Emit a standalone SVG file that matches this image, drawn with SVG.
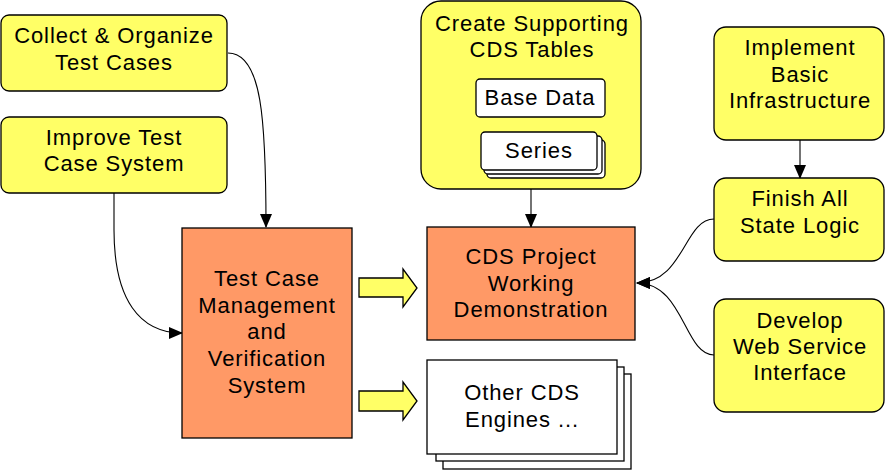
<svg xmlns="http://www.w3.org/2000/svg" width="886" height="470" viewBox="0 0 886 470">
<defs>
<marker id="ah" markerWidth="14" markerHeight="12" refX="13" refY="6" orient="auto" markerUnits="userSpaceOnUse">
<path d="M0,0 L14,6 L0,12 Z" fill="#000"/>
</marker>
<style>
.y{fill:#ffff66;stroke:#000;stroke-width:1.3}
.o{fill:#ff9966;stroke:#000;stroke-width:1.3}
.w{fill:#fff;stroke:#000;stroke-width:1.3}
.c{fill:none;stroke:#000;stroke-width:1.1;marker-end:url(#ah)}
text{font-family:"Liberation Sans",Arial,sans-serif;font-size:22px;letter-spacing:0.9px;text-anchor:middle;fill:#000}
</style>
</defs>
<rect width="886" height="470" fill="#fff"/>
<g id="connectors">
<path class="c" d="M228,53 C262,53 266,120 266,227"/>
<path class="c" d="M114,193 L114,230 C114,300 140,333 182,333"/>
<path class="c" d="M531,189 L531,227"/>
<path class="c" d="M800,140 L800,178"/>
<path class="c" d="M714,219 C684,219 684,283 637,283"/>
<path class="c" d="M714,355 C684,355 684,283 637,283"/>
</g>
<g id="collect">
<rect class="y" x="1" y="15" width="226" height="76" rx="8"/>
<text x="114" y="43">Collect &amp; Organize</text>
<text x="114" y="70">Test Cases</text>
</g>
<g id="improve">
<rect class="y" x="1" y="117" width="226" height="76" rx="8"/>
<text x="114" y="145">Improve Test</text>
<text x="114" y="171">Case System</text>
</g>
<g id="create">
<rect class="y" x="421" y="1" width="220" height="188" rx="20"/>
<text x="532" y="31">Create Supporting</text>
<text x="532" y="57">CDS Tables</text>
<g id="basedata">
<rect class="w" x="476" y="79" width="129" height="38" rx="4"/>
<text x="540" y="105">Base Data</text>
</g>
<g id="series">
<rect class="w" x="487" y="140" width="118" height="38" rx="4"/>
<rect class="w" x="484" y="136" width="118" height="38" rx="4"/>
<rect class="w" x="481" y="132" width="116" height="38" rx="4"/>
<text x="539" y="158">Series</text>
</g>
</g>
<g id="implement">
<rect class="y" x="714" y="27" width="170" height="113" rx="12"/>
<text x="800" y="55">Implement</text>
<text x="800" y="82">Basic</text>
<text x="800" y="108">Infrastructure</text>
</g>
<g id="finish">
<rect class="y" x="714" y="178" width="170" height="83" rx="12"/>
<text x="800" y="206">Finish All</text>
<text x="800" y="233">State Logic</text>
</g>
<g id="develop">
<rect class="y" x="714" y="299" width="170" height="113" rx="12"/>
<text x="800" y="328">Develop</text>
<text x="800" y="354">Web Service</text>
<text x="800" y="380">Interface</text>
</g>
<g id="tcm">
<rect class="o" x="182" y="228" width="170" height="210"/>
<text x="267" y="286">Test Case</text>
<text x="267" y="313">Management</text>
<text x="267" y="339">and</text>
<text x="267" y="366">Verification</text>
<text x="267" y="393">System</text>
</g>
<g id="arrow1">
<path class="y" d="M359,278 L403,278 L403,269 L417,288 L403,307 L403,297 L359,297 Z"/>
</g>
<g id="arrow2">
<path class="y" d="M359,391 L403,391 L403,382 L417,401 L403,420 L403,411 L359,411 Z"/>
</g>
<g id="cdsproject">
<rect class="o" x="427" y="227" width="208" height="113"/>
<text x="531" y="264">CDS Project</text>
<text x="531" y="291">Working</text>
<text x="531" y="317">Demonstration</text>
</g>
<g id="othercds">
<rect class="w" x="443" y="374" width="188" height="95"/>
<rect class="w" x="436" y="367" width="188" height="94"/>
<rect class="w" x="427" y="360" width="190" height="94"/>
<text x="522" y="400">Other CDS</text>
<text x="522" y="427">Engines ...</text>
</g>
</svg>
